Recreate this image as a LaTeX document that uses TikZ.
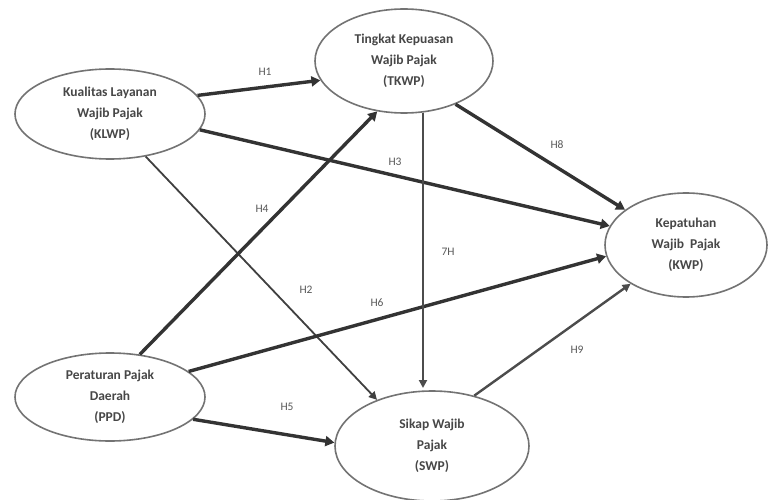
\documentclass[tikz,border=0pt]{standalone}
\usepackage{fontspec}
\setmainfont{Carlito}
\usetikzlibrary{shapes.geometric,arrows.meta}
\begin{document}
\begin{tikzpicture}[x=1pt,y=-1pt,
  var/.style={ellipse,draw=black!55,line width=1.6pt,fill=white,inner sep=0pt,
    align=center,font=\fontsize{13.5}{21}\selectfont\bfseries,text=black!72},
  thick link/.style={draw=black!80,line width=3.4pt,-{Triangle[length=9pt,width=10pt]}},
  thin link/.style={draw=black!75,line width=1.8pt,-{Triangle[length=8pt,width=8pt]}},
  mid link/.style={draw=black!70,line width=2.4pt,-{Triangle[length=8pt,width=8pt]}},
  lbl/.style={font=\fontsize{11.5}{13}\selectfont,text=black!65}]
\useasboundingbox (0,0) rectangle (768,500);
\fill[white] (0,0) rectangle (768,500);
\node[var,minimum width=190pt,minimum height=90pt] (klwp) at (110,114) {Kualitas Layanan\\Wajib Pajak\\(KLWP)};
\node[var,minimum width=178pt,minimum height=104pt] (tkwp) at (404,61) {Tingkat Kepuasan\\Wajib Pajak\\(TKWP)};
\node[var,minimum width=162pt,minimum height=104pt] (kwp) at (686,245) {Kepatuhan\\Wajib~~Pajak\\(KWP)};
\node[var,minimum width=190pt,minimum height=88pt] (ppd) at (110,397) {Peraturan Pajak\\Daerah\\(PPD)};
\node[var,minimum width=194pt,minimum height=110pt] (swp) at (432,446) {Sikap Wajib\\Pajak\\(SWP)};
\coordinate (t7) at (423,113);
\coordinate (s7) at (423,388);
% connectors
\draw[thick link] (klwp.12) -- (tkwp.193);
\draw[thin link] (klwp.-50) -- (swp.140);
\draw[thick link] (klwp.-10) -- (kwp.166);
\draw[thick link] (ppd.55) -- (tkwp.-118);
\draw[thick link] (ppd.-15) -- (swp.178);
\draw[thick link] (ppd.18) -- (kwp.188);
\draw[mid link] (t7) -- (s7);
\draw[thick link] (tkwp.-40) -- (kwp.150);
\draw[mid link] (swp.50) -- (kwp.215);
% labels
\node[lbl] (h1) at (265,72) {H1};
\node[lbl] (h2) at (306,290) {H2};
\node[lbl] (h3) at (395,162) {H3};
\node[lbl] (h4) at (262,209) {H4};
\node[lbl] (h5) at (287,407) {H5};
\node[lbl] (h6) at (377,303) {H6};
\node[lbl] (h7) at (448,252) {7H};
\node[lbl] (h8) at (557,145) {H8};
\node[lbl] (h9) at (577,350) {H9};
\end{tikzpicture}
\end{document}
